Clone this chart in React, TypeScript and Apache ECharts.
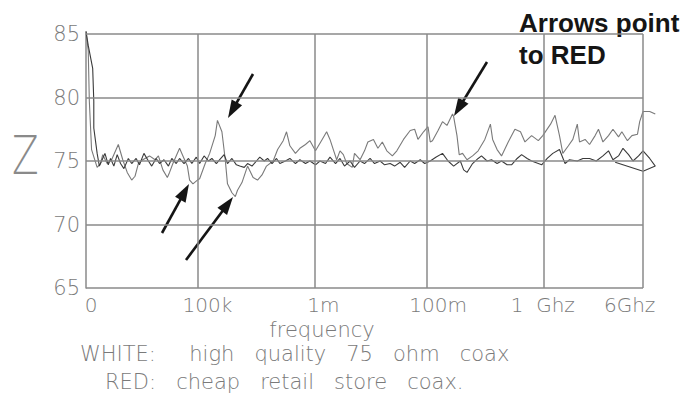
import React, { useEffect, useRef } from 'react';
import * as echarts from 'echarts';

// x is measured in grid units (each division one frequency step on the original plot)
const xTickLabels = ['0', '100k', '1m', '100m', '1  Ghz', '6Ghz'];
const xTickLabelPos = [0.045, 1.09, 2.13, 3.16, 4.1, 4.88];
const decadeGrid = [1, 2.05, 3.06, 4.11, 5];
const yTickValues = [65, 70, 75, 80, 85];
const plotEnd = 5; // right edge of the framed plot

// cheap retail store coax ("RED")
const redImpedance: [number, number][] = [
  [0, 85.2], [0.02, 83.7], [0.03, 79.7], [0.05, 75.9], [0.1, 74.5], [0.13, 74.8], [0.15, 75.5],
  [0.19, 74.8], [0.23, 75.1], [0.29, 76.3], [0.33, 75.1], [0.37, 74.1], [0.41, 73.5], [0.44, 73.8],
  [0.47, 74.8], [0.51, 75.1], [0.57, 75.4], [0.62, 75.1], [0.65, 75.4], [0.69, 74.3], [0.73, 73.7],
  [0.75, 74.1], [0.78, 74.8], [0.84, 76.0], [0.87, 75.4], [0.91, 74.6], [0.93, 73.5], [0.96, 73.2],
  [1.0, 73.5], [1.02, 73.6], [1.07, 74.8], [1.11, 75.6], [1.16, 77.0], [1.18, 78.2], [1.22, 77.3],
  [1.25, 75.1], [1.27, 73.2], [1.31, 72.5], [1.34, 72.2], [1.36, 72.7], [1.4, 73.3], [1.45, 74.6],
  [1.5, 73.7], [1.54, 73.5], [1.58, 73.9], [1.62, 74.6], [1.68, 75.0], [1.72, 75.9], [1.77, 76.6],
  [1.8, 77.3], [1.83, 76.2], [1.88, 75.6], [1.92, 76.0], [1.97, 76.3], [2.01, 76.6], [2.06, 75.8],
  [2.12, 76.7], [2.16, 77.3], [2.19, 76.7], [2.22, 75.9], [2.25, 75.1], [2.28, 75.8], [2.31, 75.5],
  [2.34, 74.8], [2.39, 74.5], [2.41, 75.6], [2.46, 75.1], [2.5, 75.8], [2.53, 76.5], [2.58, 76.7],
  [2.62, 76.0], [2.66, 76.5], [2.7, 75.8], [2.75, 75.4], [2.79, 75.8], [2.85, 76.7], [2.91, 77.4],
  [2.95, 77.5], [2.98, 76.7], [3.03, 77.3], [3.07, 77.7], [3.09, 76.5], [3.11, 76.6], [3.16, 77.4],
  [3.2, 78.1], [3.24, 77.8], [3.29, 78.7], [3.3, 78.5], [3.33, 77.0], [3.35, 75.5], [3.38, 75.6],
  [3.42, 75.1], [3.47, 75.4], [3.52, 75.8], [3.58, 76.7], [3.63, 77.9], [3.65, 76.7], [3.69, 75.9],
  [3.73, 75.4], [3.79, 76.5], [3.85, 77.5], [3.9, 77.3], [3.94, 76.5], [4.0, 77.0], [4.06, 76.6],
  [4.1, 77.0], [4.17, 77.9], [4.21, 78.6], [4.25, 77.0], [4.28, 75.6], [4.33, 76.2], [4.37, 76.7],
  [4.41, 77.9], [4.43, 76.5], [4.48, 76.7], [4.52, 76.3], [4.57, 77.0], [4.6, 77.5], [4.64, 76.5],
  [4.69, 77.0], [4.73, 77.5], [4.78, 76.9], [4.81, 77.3], [4.86, 76.6], [4.9, 77.0], [4.95, 77.1],
  [4.97, 78.1], [5.0, 78.9], [5.06, 78.9], [5.11, 78.7],
];

// high quality 75 ohm coax ("WHITE")
const whiteImpedance: [number, number][] = [
  [0, 85.2], [0.02, 84.1], [0.06, 82.3], [0.07, 79.7], [0.07, 77.6], [0.1, 75.6], [0.12, 74.6],
  [0.14, 75.0], [0.17, 75.6], [0.2, 74.7], [0.22, 75.2], [0.25, 74.6], [0.28, 75.5], [0.31, 74.8],
  [0.34, 74.4], [0.38, 75.2], [0.41, 74.8], [0.45, 75.2], [0.48, 74.7], [0.52, 75.6], [0.56, 75.0],
  [0.59, 74.6], [0.63, 75.2], [0.66, 74.8], [0.7, 75.1], [0.74, 74.6], [0.77, 75.2], [0.81, 74.8],
  [0.84, 75.2], [0.88, 74.8], [0.92, 75.2], [0.95, 74.8], [0.99, 75.3], [1.02, 74.8], [1.06, 75.4],
  [1.1, 75.0], [1.13, 75.2], [1.17, 74.8], [1.2, 75.1], [1.24, 75.5], [1.27, 74.8], [1.31, 75.2],
  [1.35, 74.7], [1.38, 74.6], [1.42, 74.5], [1.45, 74.8], [1.49, 74.6], [1.53, 75.0], [1.56, 75.3],
  [1.6, 75.0], [1.63, 75.2], [1.67, 74.8], [1.71, 75.2], [1.74, 74.8], [1.79, 75.0], [1.83, 75.2],
  [1.88, 74.8], [1.92, 75.1], [1.97, 74.8], [2.01, 75.0], [2.06, 74.7], [2.1, 75.0], [2.15, 74.8],
  [2.19, 75.3], [2.24, 74.8], [2.28, 75.2], [2.32, 74.6], [2.37, 75.0], [2.41, 74.5], [2.46, 75.0],
  [2.5, 74.8], [2.55, 75.2], [2.59, 74.8], [2.64, 75.0], [2.68, 74.7], [2.73, 74.8], [2.77, 74.6],
  [2.82, 74.9], [2.86, 74.5], [2.91, 75.0], [2.95, 74.8], [3.0, 75.1], [3.04, 74.8], [3.09, 75.0],
  [3.14, 75.3], [3.2, 75.6], [3.25, 75.0], [3.3, 74.6], [3.36, 75.0], [3.39, 74.3], [3.42, 74.1],
  [3.47, 74.8], [3.52, 75.2], [3.55, 75.4], [3.6, 75.0], [3.64, 75.1], [3.69, 74.8], [3.73, 75.0],
  [3.78, 74.7], [3.82, 74.7], [3.87, 75.2], [3.91, 75.5], [3.96, 75.2], [4.0, 75.0], [4.06, 74.8],
  [4.09, 74.7], [4.14, 75.2], [4.19, 75.6], [4.25, 75.9], [4.3, 74.8], [4.34, 75.1], [4.41, 75.0],
  [4.46, 75.2], [4.52, 75.2], [4.58, 75.0], [4.64, 75.4], [4.69, 75.8], [4.73, 75.1], [4.78, 75.4],
  [4.82, 76.0], [4.87, 75.5], [4.91, 75.0], [4.96, 75.4], [5.0, 75.8], [5.06, 75.2], [5.11, 74.6],
  [5.0, 74.2], [4.75, 74.9],
];

const FONT = '"DejaVu Sans", sans-serif';
const GRID_COLOR = '#8a8a8a';
const TEXT_COLOR = '#7a7a7a';

function arrow(sx: number, sy: number, tx: number, ty: number) {
  const dx = tx - sx;
  const dy = ty - sy;
  const len = Math.hypot(dx, dy);
  const ux = dx / len;
  const uy = dy / len;
  const L = 18;
  const W = 6;
  const bx = tx - ux * L;
  const by = ty - uy * L;
  return [
    {
      type: 'line',
      shape: { x1: sx, y1: sy, x2: bx + ux * 3, y2: by + uy * 3 },
      style: { stroke: '#151515', lineWidth: 2.6 },
      silent: true,
    },
    {
      type: 'polygon',
      shape: { points: [[tx, ty], [bx - uy * W, by + ux * W], [bx + uy * W, by - ux * W]] },
      style: { fill: '#151515' },
      silent: true,
    },
  ];
}

export default function App() {
  const ref = useRef<HTMLDivElement>(null);
  useEffect(() => {
    if (!ref.current) return;
    const chart = echarts.init(ref.current, null, { renderer: 'svg' });
    const gridLineStyle = { color: GRID_COLOR, width: 1.5, type: 'solid' };
    const option: any = {
      animation: false,
      backgroundColor: '#ffffff',
      // x range runs a little past the framed plot so the traces can overrun the right edge
      grid: { left: 86, right: 32.6, top: 34, bottom: 105 },
      xAxis: {
        type: 'value',
        min: 0,
        max: 5.12,
        axisLine: { show: false },
        axisTick: { show: false },
        splitLine: { show: false },
        axisLabel: {
          customValues: xTickLabelPos,
          formatter: (v: number) => {
            const i = xTickLabelPos.findIndex((p) => Math.abs(p - v) < 1e-6);
            return i >= 0 ? xTickLabels[i] : '';
          },
          color: TEXT_COLOR,
          fontFamily: FONT,
          fontWeight: 200,
          fontSize: 20,
          margin: 7,
        },
      },
      yAxis: {
        type: 'value',
        min: 65,
        max: 85,
        interval: 5,
        axisLine: { show: true, lineStyle: { color: GRID_COLOR, width: 1.5 } },
        axisTick: { show: false },
        splitLine: { show: false },
        axisLabel: {
          formatter: (v: number) => (yTickValues.includes(v) ? String(v) : ''),
          color: TEXT_COLOR,
          fontFamily: FONT,
          fontWeight: 200,
          fontSize: 21,
          margin: 6,
        },
      },
      series: [
        {
          name: 'WHITE',
          type: 'line',
          data: whiteImpedance,
          showSymbol: false,
          clip: false,
          lineStyle: { color: '#3a3a3a', width: 1.1 },
          markLine: {
            silent: true,
            symbol: 'none',
            label: { show: false },
            lineStyle: gridLineStyle,
            data: [
              ...decadeGrid.map((x) => [{ coord: [x, 65] }, { coord: [x, 85] }]),
              ...yTickValues.map((y) => [{ coord: [0, y] }, { coord: [plotEnd, y] }]),
            ],
          },
          z: 3,
        },
        {
          name: 'RED',
          type: 'line',
          data: redImpedance,
          showSymbol: false,
          clip: false,
          lineStyle: { color: '#7a7a7a', width: 1.1 },
          z: 2,
        },
      ],
      graphic: [
        {
          type: 'text',
          x: 12,
          y: 155,
          scaleX: 0.72,
          style: {
            text: 'Z',
            fontSize: 54,
            fontFamily: FONT,
            fontWeight: 200,
            fill: '#8a8a8a',
            align: 'left',
            verticalAlign: 'middle',
          },
        },
        {
          type: 'text',
          x: 322,
          y: 330,
          style: {
            text: 'frequency',
            fontSize: 21,
            fontFamily: FONT,
            fontWeight: 200,
            fill: TEXT_COLOR,
            align: 'center',
            verticalAlign: 'middle',
          },
        },
        {
          type: 'text',
          x: 80,
          y: 354,
          style: {
            text: 'WHITE:     high   quality   75   ohm   coax',
            fontSize: 21,
            fontFamily: FONT,
            fontWeight: 200,
            fill: TEXT_COLOR,
            align: 'left',
            verticalAlign: 'middle',
          },
        },
        {
          type: 'text',
          x: 105,
          y: 382,
          style: {
            text: 'RED:   cheap   retail   store   coax.',
            fontSize: 21,
            fontFamily: FONT,
            fontWeight: 200,
            fill: TEXT_COLOR,
            align: 'left',
            verticalAlign: 'middle',
          },
        },
        {
          type: 'text',
          x: 519,
          y: 7,
          style: {
            text: 'Arrows point\nto RED',
            fontSize: 26,
            lineHeight: 32,
            fontFamily: '"Liberation Sans", Arial, sans-serif',
            fontWeight: 'bold',
            fill: '#151515',
            align: 'left',
            verticalAlign: 'top',
          },
        },
        ...arrow(253, 74, 228, 118),
        ...arrow(487, 62, 454, 116),
        ...arrow(162, 233, 189, 184),
        ...arrow(186, 260, 233, 197),
      ],
    };
    chart.setOption(option);
    return () => chart.dispose();
  }, []);
  return (
    <div
      ref={ref}
      style={{ position: 'fixed', left: 0, top: 0, width: 689, height: 393 }}
    />
  );
}
